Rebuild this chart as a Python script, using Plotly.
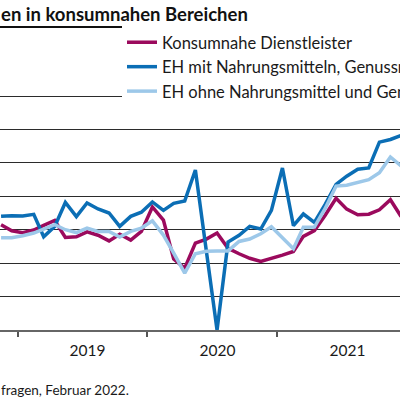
import pandas as pd
import plotly.graph_objects as go

# Monthly values (balance points), Nov 2018 - Dec 2021
months = pd.date_range("2018-11-01", "2021-12-01", freq="MS") + pd.Timedelta(days=14)

dienstleister = [
    23.0, 19.4, 18.2, 19.8, 22.6, 25.5, 15.4, 15.8, 18.7, 16.7, 13.3, 17.3,
    13.8, 19.0, 33.6, 25.8, 2.4, -3.0, 12.0, 14.4, 18.0, 8.9, 5.6, 2.9,
    1.0, 2.7, 4.8, 7.0, 16.0, 19.5, 28.5, 38.8, 32.3, 28.9, 29.3, 31.9,
    37.9, 27.9,
]
eh_mit = [
    28.0, 28.4, 28.2, 29.2, 15.8, 22.0, 36.3, 27.8, 36.0, 32.4, 30.0, 22.0,
    28.0, 30.5, 36.6, 31.6, 35.8, 37.2, 55.7, 8.0, -40.0, 12.6, 16.7, 22.0,
    20.4, 31.6, 56.9, 22.4, 29.4, 24.4, 35.0, 47.1, 52.0, 56.2, 57.0, 72.4,
    74.0, 76.4,
]
eh_ohne = [
    15.2, 15.2, 16.4, 18.0, 20.4, 23.0, 20.0, 18.3, 21.0, 19.0, 19.0, 15.6,
    19.0, 21.0, 25.3, 16.8, 6.0, -6.0, 5.6, 7.1, 7.2, 7.3, 13.0, 14.4,
    17.6, 21.8, 15.2, 8.6, 21.5, 21.6, 32.6, 46.1, 46.6, 48.1, 49.9, 54.1,
    63.5, 58.2,
]

series = [
    ("Konsumnahe Dienstleister", dienstleister, "#9b0a5d"),
    ("EH mit Nahrungsmitteln, Genussmitteln", eh_mit, "#0b6eb5"),
    ("EH ohne Nahrungsmittel und Genussmittel", eh_ohne, "#9dc8e9"),
]

FONT = "Lato, 'Noto Sans', sans-serif"
PLOT_TOP, PLOT_BOTTOM = 94, 330  # pixel rows of the plot area


def paper_y(px):
    """Pixel row -> paper y coordinate"""
    return (PLOT_BOTTOM - px) / (PLOT_BOTTOM - PLOT_TOP)


fig = go.Figure()
for i, (name, values, color) in enumerate(series):
    fig.add_trace(
        go.Scatter(
            x=months,
            y=values,
            name=name,
            mode="lines",
            legendgroup=str(i),
            line={"color": color, "width": 3.5},
            hoverinfo="skip",
        )
    )

fig.update_xaxes(
    type="date",
    range=["2018-11-12", "2021-12-12"],
    dtick="M12",
    tick0="2019-01-01",
    tickformat="%Y",
    ticklabelmode="period",
    ticklabelshift=5,
    ticks="outside",
    ticklen=5,
    tickwidth=1.5,
    tickcolor="#555555",
    showline=True,
    linecolor="#666666",
    linewidth=2,
    showgrid=False,
    zeroline=False,
    tickfont={"size": 15.5, "color": "#1a1a1a"},
)
fig.update_yaxes(
    range=[-40, 101.2],
    dtick=20,
    tick0=0,
    showticklabels=False,
    showgrid=True,
    gridcolor="#2b2b2b",
    gridwidth=1,
    zeroline=False,
    showline=False,
)

fig.update_layout(
    width=400,
    height=400,
    margin={"l": 0, "r": 0, "t": PLOT_TOP, "b": 400 - PLOT_BOTTOM, "pad": 0,
            "autoexpand": False},
    paper_bgcolor="white",
    plot_bgcolor="white",
    font={"family": FONT, "size": 16.5, "color": "#1a1a1a"},
    showlegend=True,
    legend={
        "x": 122 / 400,
        "xanchor": "left",
        "y": paper_y(25),
        "yanchor": "top",
        "bgcolor": "white",
        "borderwidth": 0,
        "tracegroupgap": 0,
        "itemwidth": 30,
        "font": {"family": FONT, "size": 16.5, "color": "#1a1a1a"},
    },
    annotations=[
        {
            "text": "<b>en in konsumnahen Bereichen</b>",
            "xref": "paper",
            "yref": "paper",
            "x": -0.003,
            "y": paper_y(14),
            "xanchor": "left",
            "yanchor": "middle",
            "showarrow": False,
            "font": {"family": FONT, "size": 18.5, "color": "#111111"},
        },
        {
            "text": "fragen, Februar 2022.",
            "xref": "paper",
            "yref": "paper",
            "x": -0.003,
            "y": paper_y(390),
            "xanchor": "left",
            "yanchor": "middle",
            "showarrow": False,
            "font": {"family": FONT, "size": 13.5, "color": "#1a1a1a"},
        },
    ],
    shapes=[
        {
            "type": "line",
            "xref": "paper",
            "yref": "paper",
            "x0": 0,
            "x1": 1,
            "y0": paper_y(27),
            "y1": paper_y(27),
            "line": {"color": "#111111", "width": 2},
        }
    ],
)

# drop the browser's default page margin so the figure sits at the corner
fig.write_html(
    "out.html",
    config={"displayModeBar": False},
    post_script="document.body.style.margin = '0';",
)
